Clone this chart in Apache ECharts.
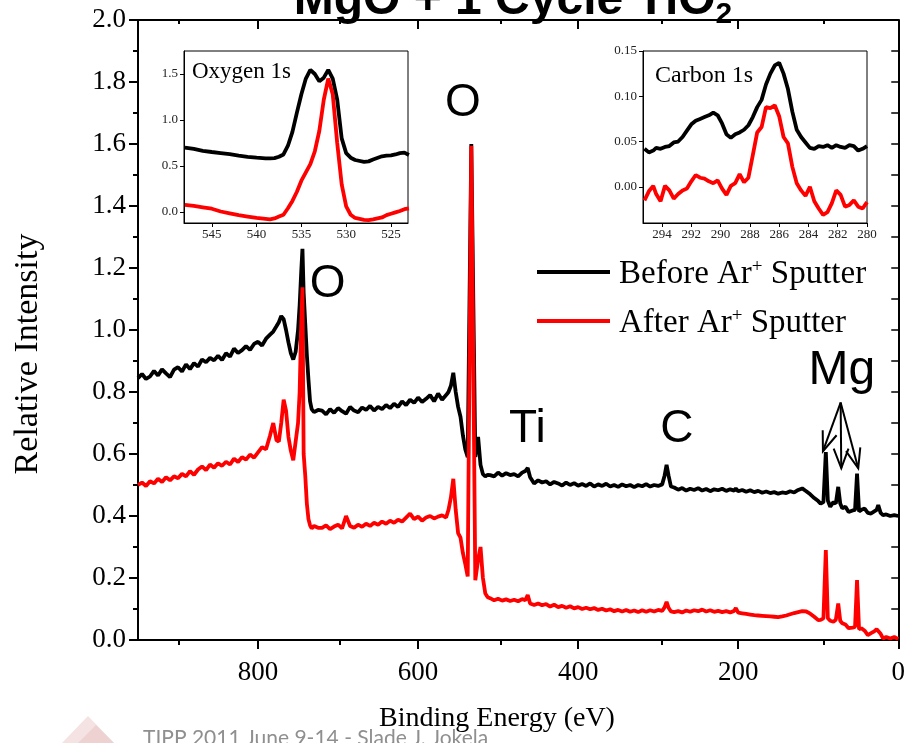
<!DOCTYPE html>
<html>
<head>
<meta charset="utf-8">
<title>MgO + 1 Cycle TiO2 XPS survey</title>
<script src="https://cdn.jsdelivr.net/npm/echarts@6/dist/echarts.min.js"></script>
<style>
  html, body { margin: 0; padding: 0; background: #fff; }
  #chart { width: 908px; height: 743px; }
</style>
</head>
<body>
<div id="chart"></div>
<script>
// ---- Survey spectrum (binding energy in eV, relative intensity) ----
const energy = [
  950,945,940,935,930,925,920,915,910,905,900,895,890,885,880,875,870,865,860,855,850,845,840,835,830,825,820,815,810,805,800,795,790,
  785,781,777,774,771,768,765,762,759,756,753,750,748,746,744.5,743,741,739,737,735,733,730,725,
  720,715,710,705,700,695,690,685,680,675,670,665,660,655,650,645,640,635,630,625,620,615,610,605,600,595,590,585,580,575,570,565,
  562,559,556,553,550,547,544,541,538,533.5,528.5,525,522,519,516,513,
  510,505,500,495,490,485,480,475,470,466,463,460,
  455,450,445,440,435,430,425,420,415,410,405,400,395,390,385,380,375,370,365,360,355,350,345,340,335,330,325,320,315,310,305,300,295,
  292,289.5,287,284,
  280,275,270,265,260,255,250,245,240,235,230,225,220,215,210,205,203,
  200,195,190,185,180,175,170,165,160,155,150,145,140,135,130,125,120,115,110,105,100,
  97,93.5,90.5,88,85,81,78,75,72.5,70,66,62,57,54,51.5,49,46,42,38,34,30,27,25,22,19,15,10,5,0
];
const beforeSputter = [
  .845,.858,.842,.850,.868,.853,.873,.860,.848,.872,.880,.866,.889,.874,.893,.882,.905,.896,.910,.902,.917,.903,.925,.914,.940,.926,.935,.948,.936,.955,.962,.950,.972,
  .985,.995,1.012,1.025,1.045,1.035,1.00,.96,.925,.905,.93,1.00,1.08,1.19,1.262,1.12,1.02,.92,.84,.77,.745,.735,.742,
  .740,.728,.745,.733,.748,.738,.730,.752,.740,.735,.750,.742,.755,.740,.752,.745,.758,.748,.762,.752,.770,.758,.775,.765,.782,.768,.778,.790,.770,.795,.775,.790,
  .800,.820,.862,.800,.752,.72,.66,.615,.59,1.60,.59,.655,.565,.535,.528,.533,
  .532,.528,.540,.530,.538,.532,.535,.528,.540,.545,.555,.525,
  .505,.515,.508,.512,.502,.510,.505,.498,.508,.500,.506,.498,.503,.497,.505,.495,.502,.497,.504,.495,.500,.494,.502,.496,.500,.493,.500,.496,.503,.495,.500,.497,.502,
  .53,.565,.53,.495,
  .492,.485,.49,.482,.488,.484,.490,.482,.487,.480,.486,.483,.488,.481,.486,.482,.489,
  .480,.484,.478,.483,.477,.481,.475,.479,.474,.477,.472,.476,.474,.480,.476,.484,.489,.480,.470,.458,.448,
  .44,.445,.606,.45,.43,.445,.44,.494,.44,.425,.43,.413,.418,.42,.537,.415,.42,.424,.41,.408,.415,.42,.435,.41,.403,.405,.40,.403,.40
];
const afterSputter = [
  .500,.508,.497,.512,.505,.520,.510,.525,.515,.528,.522,.536,.528,.545,.533,.550,.560,.548,.566,.556,.570,.562,.575,.566,.585,.574,.590,.582,.598,.588,.605,.622,.615,
  .66,.70,.645,.64,.70,.775,.74,.655,.61,.58,.64,.70,.80,1.02,1.138,.60,.53,.44,.39,.37,.36,.368,.362,
  .362,.370,.358,.366,.372,.360,.400,.368,.362,.372,.365,.375,.368,.378,.372,.382,.375,.385,.378,.388,.382,.395,.408,.390,.398,.385,.395,.400,.392,.398,.402,.395,
  .42,.46,.52,.42,.345,.33,.28,.245,.205,1.594,.193,.26,.30,.20,.15,.138,
  .135,.128,.133,.127,.131,.126,.130,.125,.132,.128,.145,.118,
  .113,.118,.112,.116,.108,.114,.106,.110,.104,.109,.102,.106,.100,.104,.099,.103,.097,.101,.095,.099,.093,.097,.092,.097,.091,.095,.090,.096,.091,.096,.092,.097,.094,
  .105,.123,.104,.092,
  .090,.093,.089,.095,.091,.096,.093,.098,.092,.096,.091,.094,.090,.093,.089,.094,.103,
  .088,.086,.084,.082,.080,.079,.078,.077,.076,.075,.074,.076,.079,.083,.087,.090,.093,.092,.085,.075,.064,
  .065,.07,.29,.07,.062,.059,.065,.118,.062,.054,.05,.038,.04,.042,.193,.035,.038,.03,.016,.022,.028,.035,.038,.02,.005,.01,.005,.01,.003
];

// ---- Oxygen 1s detail ----
const o1sEnergy = [548,547,546,545,544,543,542,541,540,539,538.5,538,537.5,537,536.5,536,535.5,535,534.5,534,
  533.5,533,532.5,532,531.5,531,530.5,530,529.5,529,528,527.5,527,526,525.5,525,524.5,524,523.5,523];
const o1sBefore = [.70,.685,.665,.652,.64,.628,.612,.60,.59,.582,.582,.585,.60,.625,.72,.87,1.08,1.28,1.45,1.545,
  1.50,1.42,1.46,1.545,1.45,1.22,.80,.64,.59,.565,.545,.55,.57,.605,.612,.615,.625,.64,.645,.62];
const o1sAfter = [.076,.065,.05,.035,.005,-.015,-.035,-.05,-.065,-.075,-.08,-.07,-.05,-.03,.04,.12,.22,.34,.43,.52,
  .66,.88,1.22,1.45,1.28,.75,.30,.06,-.03,-.065,-.085,-.088,-.08,-.06,-.035,-.02,-.005,.01,.03,.04];

// ---- Carbon 1s detail ----
const c1sEnergy = [295.2,294.9,294.6,294.4,294.1,293.8,293.5,293.2,292.9,292.6,292.3,292.0,291.7,291.4,291.1,290.8,290.5,290.2,289.9,289.6,
  289.3,289.0,288.7,288.4,288.1,287.8,287.5,287.2,286.9,286.6,286.3,286.0,285.7,285.4,285.1,284.8,284.5,284.2,283.9,283.6,
  283.3,283.0,282.7,282.4,282.1,281.8,281.5,281.2,280.9,280.6,280.3,280.0];
const c1sBefore = [.042,.038,.040,.043,.042,.044,.045,.049,.050,.055,.062,.069,.073,.075,.077,.079,.082,.079,.070,.058,
  .054,.058,.060,.063,.068,.077,.088,.096,.113,.125,.134,.137,.125,.108,.083,.063,.055,.049,.043,.042,
  .045,.044,.046,.043,.046,.044,.043,.046,.045,.040,.042,.045];
const c1sAfter = [-.015,-.005,.001,-.008,-.016,.001,-.004,-.013,-.008,-.004,-.002,.006,.013,.010,.009,.006,.004,.007,-.002,-.009,
  .001,.004,.014,.005,.010,.035,.060,.066,.088,.087,.090,.078,.055,.048,.022,.004,-.004,-.010,.000,-.016,
  -.024,-.031,-.028,-.018,-.004,-.009,-.022,-.020,-.015,-.022,-.024,-.017];

// ---- Tick values ----
const mainXTicks = [0, 200, 400, 600, 800];
const mainXMinor = [100, 300, 500, 700, 900];
const o1sXTicks = [545, 540, 535, 530, 525];
const o1sYTicks = [0, 0.5, 1.0, 1.5];
const c1sXTicks = [294, 292, 290, 288, 286, 284, 282, 280];
const c1sYTicks = [0, 0.05, 0.10, 0.15];

// ---- Peak annotations (data coordinates of label centres) ----
const peakLabels = [
  { text: 'O',  at: [544, 1.73] },
  { text: 'O',  at: [713, 1.148] },
  { text: 'Ti', at: [463.5, 0.68] },
  { text: 'C',  at: [276.5, 0.68] },
  { text: 'Mg', at: [70.5, 0.87] }
];
const mgArrowFrom = [72, 0.766];
const mgArrowTips = [[94.1, 0.609], [71.2, 0.554], [50, 0.554]];

const seriesNames = ['Before Ar+ Sputter', 'After Ar+ Sputter'];

[[energy, beforeSputter], [energy, afterSputter], [o1sEnergy, o1sBefore], [o1sEnergy, o1sAfter],
 [c1sEnergy, c1sBefore], [c1sEnergy, c1sAfter]].forEach(([a, b], i) => {
  if (a.length !== b.length) throw new Error('length mismatch in data set ' + i + ': ' + a.length + ' vs ' + b.length);
});

const SERIF = "'Liberation Serif', 'Times New Roman', serif";
const SANS = "'Liberation Sans', Arial, sans-serif";
const pairs = (xs, ys) => xs.map((x, i) => [x, ys[i]]);

const chart = echarts.init(document.getElementById('chart'));

const black = '#000000';
const red = '#ff0000';

function insetX(grid, min, max, ticks) {
  return {
    gridIndex: grid, type: 'value', inverse: true, min: min, max: max, position: 'bottom',
    axisLine: { show: true, onZero: false, lineStyle: { color: black, width: 1 } },
    axisTick: { show: true, customValues: ticks, length: 4, lineStyle: { color: black, width: 1 } },
    axisLabel: { show: true, customValues: ticks, fontFamily: SERIF, fontSize: 13, color: '#222', margin: 5 },
    splitLine: { show: false }
  };
}
function insetY(grid, min, max, ticks, digits) {
  return {
    gridIndex: grid, type: 'value', min: min, max: max, position: 'left',
    axisLine: { show: true, onZero: false, lineStyle: { color: black, width: 1 } },
    axisTick: { show: true, customValues: ticks, length: 4, lineStyle: { color: black, width: 1 } },
    axisLabel: { show: true, customValues: ticks, fontFamily: SERIF, fontSize: 13, color: '#222', margin: 6,
      formatter: v => Number(v).toFixed(digits) },
    splitLine: { show: false }
  };
}

const option = {
  animation: false,
  backgroundColor: '#ffffff',
  grid: [
    { left: 138, top: 20, width: 766, height: 620 },
    { left: 184, top: 51, width: 224, height: 172, show: true, backgroundColor: '#fff', borderColor: black, borderWidth: 1 },
    { left: 643, top: 51, width: 224, height: 172, show: true, backgroundColor: '#fff', borderColor: black, borderWidth: 1 },
    { left: 138, top: 20, width: 766, height: 620 }
  ],
  legend: {
    data: seriesNames,
    orient: 'vertical',
    left: 537, top: 258,
    padding: 0,
    itemWidth: 73, itemHeight: 4, itemGap: 16,
    icon: 'rect',
    selectedMode: false,
    formatter: name => {
      const parts = name.split('Ar+');
      return '{t|' + parts[0] + 'Ar}{sup|+}{t|' + parts[1] + '}';
    },
    textStyle: {
      fontFamily: SERIF, fontSize: 33, color: black, padding: [0, 0, 0, 4],
      rich: {
        t: { fontFamily: SERIF, fontSize: 33, color: black, verticalAlign: 'bottom', lineHeight: 38 },
        sup: { fontFamily: SERIF, fontSize: 19, color: black, verticalAlign: 'bottom', padding: [0, 0, 14, 0] }
      }
    }
  },
  xAxis: [
    { // main bottom axis
      gridIndex: 0, type: 'value', inverse: true, min: 0, max: 950, interval: 200, position: 'bottom',
      axisLine: { show: true, onZero: false, lineStyle: { color: black, width: 2 } },
      axisTick: { show: true, customValues: mainXTicks, length: 9, lineStyle: { color: black, width: 2 } },
      axisLabel: { show: true, customValues: mainXTicks, fontFamily: SERIF, fontSize: 27, color: black, margin: 19 },
      splitLine: { show: false }
    },
    { // main top frame
      gridIndex: 0, type: 'value', inverse: true, min: 0, max: 950, position: 'top',
      axisLine: { show: true, onZero: false, lineStyle: { color: black, width: 2 } },
      axisTick: { show: true, inside: true, customValues: mainXTicks, length: 9, lineStyle: { color: black, width: 2 } },
      axisLabel: { show: false }, splitLine: { show: false }
    },
    insetX(1, 523.1, 548.1, o1sXTicks),
    insetX(2, 280, 295.3, c1sXTicks),
    { // minor ticks, bottom
      gridIndex: 3, type: 'value', inverse: true, min: 0, max: 950, position: 'bottom',
      axisLine: { show: false },
      axisTick: { show: true, customValues: mainXMinor, length: 5, lineStyle: { color: black, width: 2 } },
      axisLabel: { show: false }, splitLine: { show: false }
    },
    { // minor ticks, top
      gridIndex: 3, type: 'value', inverse: true, min: 0, max: 950, position: 'top',
      axisLine: { show: false },
      axisTick: { show: true, inside: true, customValues: mainXMinor, length: 4, lineStyle: { color: black, width: 2 } },
      axisLabel: { show: false }, splitLine: { show: false }
    }
  ],
  yAxis: [
    {
      gridIndex: 0, type: 'value', min: 0, max: 2, interval: 0.2, position: 'left',
      axisLine: { show: true, onZero: false, lineStyle: { color: black, width: 2 } },
      axisTick: { show: true, length: 9, lineStyle: { color: black, width: 2 } },
      minorTick: { show: true, splitNumber: 2, length: 5, lineStyle: { color: black, width: 2 } },
      axisLabel: { show: true, fontFamily: SERIF, fontSize: 27, color: black, margin: 12, formatter: v => v.toFixed(1) },
      splitLine: { show: false }
    },
    {
      gridIndex: 0, type: 'value', min: 0, max: 2, interval: 0.1, position: 'right',
      axisLine: { show: true, onZero: false, lineStyle: { color: black, width: 2 } },
      axisTick: { show: true, inside: true, length: 7, lineStyle: { color: black, width: 1.5 } },
      axisLabel: { show: false }, splitLine: { show: false }
    },
    insetY(1, -0.12, 1.75, o1sYTicks, 1),
    insetY(2, -0.04, 0.15, c1sYTicks, 2),
    { gridIndex: 3, type: 'value', min: 0, max: 2, show: false }
  ],
  series: [
    { name: seriesNames[0], type: 'line', xAxisIndex: 0, yAxisIndex: 0, data: pairs(energy, beforeSputter),
      showSymbol: false, symbol: 'none', color: black, lineStyle: { color: black, width: 3.8 }, z: 3 },
    { name: seriesNames[1], type: 'line', xAxisIndex: 0, yAxisIndex: 0, data: pairs(energy, afterSputter),
      showSymbol: false, symbol: 'none', color: red, lineStyle: { color: red, width: 3.8 }, z: 4 },
    { name: 'O 1s before', type: 'line', xAxisIndex: 2, yAxisIndex: 2, data: pairs(o1sEnergy, o1sBefore),
      showSymbol: false, symbol: 'none', color: black, lineStyle: { color: black, width: 3.8 }, z: 6 },
    { name: 'O 1s after', type: 'line', xAxisIndex: 2, yAxisIndex: 2, data: pairs(o1sEnergy, o1sAfter),
      showSymbol: false, symbol: 'none', color: red, lineStyle: { color: red, width: 3.8 }, z: 7 },
    { name: 'C 1s before', type: 'line', xAxisIndex: 3, yAxisIndex: 3, data: pairs(c1sEnergy, c1sBefore),
      showSymbol: false, symbol: 'none', color: black, lineStyle: { color: black, width: 3.8 }, z: 6 },
    { name: 'C 1s after', type: 'line', xAxisIndex: 3, yAxisIndex: 3, data: pairs(c1sEnergy, c1sAfter),
      showSymbol: false, symbol: 'none', color: red, lineStyle: { color: red, width: 3.8 }, z: 7 }
  ]
};

chart.setOption(option);

// ---- Title, axis titles, peak labels, Mg arrows and footer ----
const toPx = p => chart.convertToPixel({ xAxisIndex: 0, yAxisIndex: 0 }, p);
const graphics = [];
const textEl = (x, y, text, font, size, fill, align, extra) => Object.assign({
  type: 'text', z: 20,
  style: { x: x, y: y, text: text, fontFamily: font, fontSize: size, fill: fill,
    align: align, verticalAlign: 'middle', textAlign: align, textVerticalAlign: 'middle' }
}, extra || {});

// footer logo mark and credit line (drawn first, under the axis title)
graphics.push({ type: 'polygon', z: 1, shape: { points: [[62, 743], [88, 716], [114, 743]] },
  style: { fill: '#f5e2e2', stroke: null } });
graphics.push({ type: 'polygon', z: 1, shape: { points: [[78, 743], [96, 725], [114, 743]] },
  style: { fill: '#eed2d2', stroke: null } });
graphics.push(textEl(143, 738, 'TIPP 2011 June 9-14 - Slade J. Jokela', "Lato, 'Open Sans', sans-serif", 21, '#8f8f8f', 'left', { z: 1 }));

graphics.push({
  type: 'text', z: 20,
  style: {
    x: 513, y: 30, text: '{a|MgO + 1 Cycle TiO}{b|2}',
    align: 'center', verticalAlign: 'bottom', textAlign: 'center', textVerticalAlign: 'bottom',
    rich: {
      a: { fontFamily: SANS, fontSize: 48, fontWeight: 'bold', fill: black, verticalAlign: 'bottom', padding: [0, 0, 5, 0] },
      b: { fontFamily: SANS, fontSize: 30, fontWeight: 'bold', fill: black, verticalAlign: 'bottom' }
    }
  }
});

graphics.push(textEl(497, 719, 'Binding Energy (eV)', SERIF, 28, black, 'center', { z: 20 }));
// vertical axis title, rotated about its own centre
const yTitle = textEl(0, 0, 'Relative Intensity', SERIF, 34, black, 'center', { z: 20 });
yTitle.x = 28; yTitle.y = 354; yTitle.rotation = Math.PI / 2;
graphics.push(yTitle);

peakLabels.forEach(l => {
  const p = toPx(l.at);
  graphics.push(textEl(p[0], p[1], l.text, SANS, l.text === 'Mg' ? 48 : 46, black, 'center'));
});

const from = toPx(mgArrowFrom);
mgArrowTips.forEach(t => {
  const tip = toPx(t);
  const dx = tip[0] - from[0], dy = tip[1] - from[1];
  const len = Math.hypot(dx, dy);
  const bx = -dx / len, by = -dy / len;
  const L = 21, a = 0.36;
  const h1 = [tip[0] + L * (bx * Math.cos(a) - by * Math.sin(a)), tip[1] + L * (bx * Math.sin(a) + by * Math.cos(a))];
  const h2 = [tip[0] + L * (bx * Math.cos(-a) - by * Math.sin(-a)), tip[1] + L * (bx * Math.sin(-a) + by * Math.cos(-a))];
  graphics.push({ type: 'polyline', z: 20, shape: { points: [from, tip] }, style: { stroke: black, lineWidth: 2, fill: null } });
  graphics.push({ type: 'polyline', z: 20, shape: { points: [h1, tip, h2] }, style: { stroke: black, lineWidth: 2, fill: null } });
});

graphics.push(textEl(192, 72, 'Oxygen 1s', SERIF, 23, black, 'left'));
graphics.push(textEl(655, 76, 'Carbon 1s', SERIF, 24, black, 'left'));

chart.setOption({ graphic: graphics });
</script>
</body>
</html>
